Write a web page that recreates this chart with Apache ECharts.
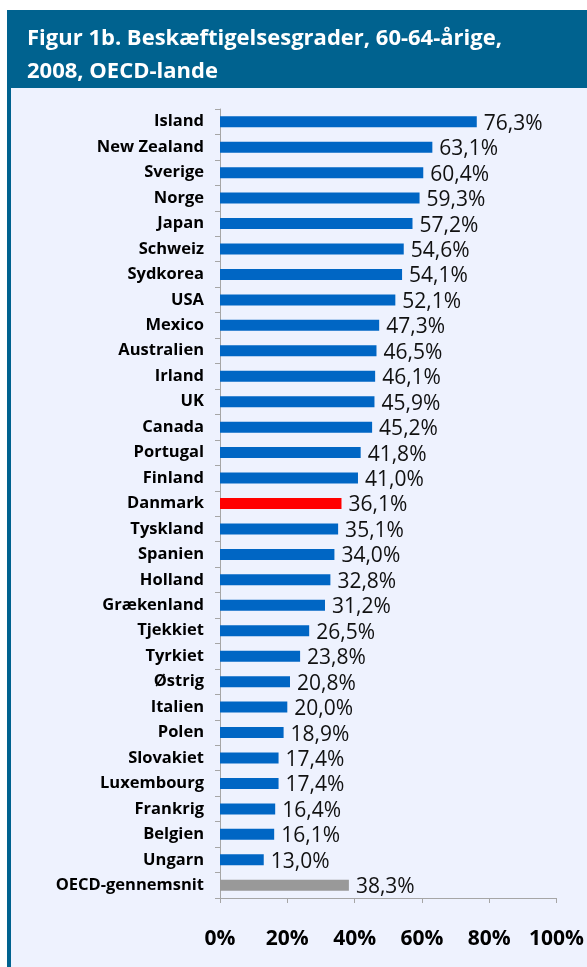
<!DOCTYPE html>
<html><head><meta charset="utf-8">
<script src="https://cdn.jsdelivr.net/npm/echarts@6/dist/echarts.min.js"></script>
<style>html,body{margin:0;padding:0;background:#fff}#c{width:587px;height:967px}</style>
</head><body><div id="c"></div>
<script>
const countries = ["Island","New Zealand","Sverige","Norge","Japan","Schweiz","Sydkorea","USA","Mexico","Australien","Irland","UK","Canada","Portugal","Finland","Danmark","Tyskland","Spanien","Holland","Grækenland","Tjekkiet","Tyrkiet","Østrig","Italien","Polen","Slovakiet","Luxembourg","Frankrig","Belgien","Ungarn","OECD-gennemsnit"];
const values = [76.3,63.1,60.4,59.3,57.2,54.6,54.1,52.1,47.3,46.5,46.1,45.9,45.2,41.8,41.0,36.1,35.1,34.0,32.8,31.2,26.5,23.8,20.8,20.0,18.9,17.4,17.4,16.4,16.1,13.0,38.3];
const tickValues = [0,20,40,60,80,100];
const highlightRed = "Danmark";
const highlightGray = "OECD-gennemsnit";

const chart = echarts.init(document.getElementById('c'));
const data = values.map((v,i)=>({
  value: v,
  itemStyle: {color: countries[i]===highlightRed ? '#FF0000' : countries[i]===highlightGray ? '#999999' : '#0066C4'}
}));
chart.setOption({
  animation: false,
  backgroundColor: '#ffffff',
  graphic: [
    {type:'rect', shape:{x:7,y:10,width:580,height:957}, style:{fill:'#EEF2FE'}, z:-10},
    {type:'rect', shape:{x:7,y:10,width:580,height:78}, style:{fill:'#00628F'}, z:-9},
    {type:'rect', shape:{x:7,y:10,width:4,height:957}, style:{fill:'#00628F'}, z:-9}
  ],
  title: {
    text: 'Figur 1b. Beskæftigelsesgrader, 60-64-årige,\n2008, OECD-lande',
    left: 22, top: 17,
    textStyle: {color:'#ffffff', fontFamily:'Open Sans', fontWeight:'bold', fontSize:22, lineHeight:33}
  },
  grid: {left:220, right:30, top:109, bottom:69, containLabel:false},
  xAxis: {
    type:'value', min:0, max:100, interval:20,
    axisLine:{show:true, lineStyle:{color:'#A6A6A6'}},
    axisTick:{show:true, length:5, lineStyle:{color:'#A6A6A6'}},
    splitLine:{show:false},
    axisLabel:{formatter:'{value}%', fontFamily:'Open Sans', fontWeight:'bold', fontSize:21, color:'#000', margin:31}
  },
  yAxis: {
    type:'category', data:countries, inverse:true,
    axisLine:{show:true, lineStyle:{color:'#A6A6A6'}},
    axisTick:{show:true, length:5, alignWithLabel:false, lineStyle:{color:'#A6A6A6'}},
    axisLabel:{fontFamily:'Open Sans', fontWeight:'bold', fontSize:16.5, color:'#000', margin:16}
  },
  series: [{
    type:'bar', data:data, barWidth:11,
    label:{show:true, position:'right', distance:7, fontFamily:'Open Sans', fontSize:21, color:'#111', offset:[0,2],
      formatter: p => p.value.toFixed(1).replace('.',',') + '%'}
  }]
});
</script></body></html>
